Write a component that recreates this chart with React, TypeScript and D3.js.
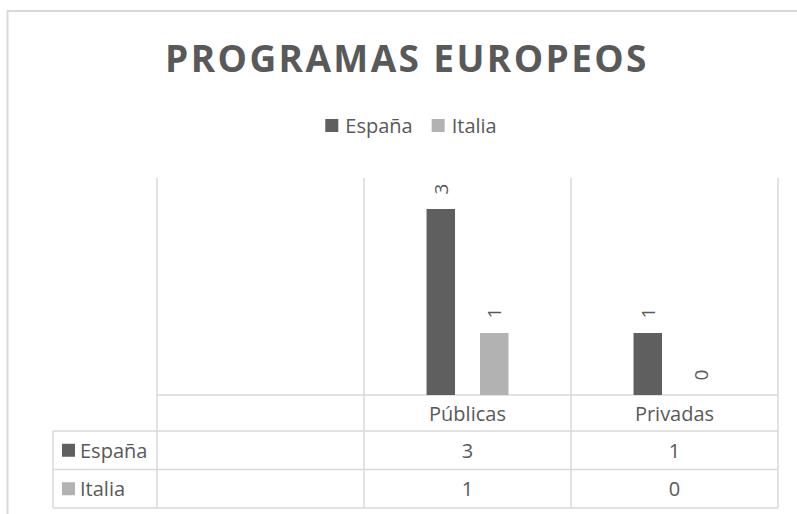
import { useEffect, useRef } from "react";
import * as d3 from "d3";

const categories = ["", "Públicas", "Privadas"];
const seriesNames = ["España", "Italia"];
const espana = [null, 3, 1];
const italia = [null, 1, 0];
const chartTitle = "PROGRAMAS EUROPEOS";

const colors = ["#5f5f5f", "#b2b2b2"];
const textColor = "#595959";
const lineColor = "#d9d9d9";
const font = "'Open Sans', sans-serif";

export default function App() {
  const svgRef = useRef<SVGSVGElement | null>(null);

  useEffect(() => {
    if (!svgRef.current) return;
    const svg = d3.select(svgRef.current);
    svg.selectAll("*").remove();

    const width = 797;
    const height = 514;
    const plot = { left: 157, right: 778, top: 178, bottom: 395 };
    const tableLeft = 53;
    const catRowBottom = 431;
    const rowH = 38.5;

    const values = [espana, italia];

    // outer chart border
    svg
      .append("rect")
      .attr("x", 7.5)
      .attr("y", 11)
      .attr("width", width)
      .attr("height", height)
      .attr("fill", "#fff")
      .attr("stroke", lineColor)
      .attr("stroke-width", 2);

    svg
      .append("text")
      .attr("x", 407)
      .attr("y", 72)
      .attr("text-anchor", "middle")
      .attr("font-family", font)
      .attr("font-weight", 700)
      .attr("font-size", 37)
      .attr("letter-spacing", 2.4)
      .attr("fill", textColor)
      .text(chartTitle);

    // legend, centred
    const legend = svg.append("g");
    let lx = 0;
    seriesNames.forEach((name, i) => {
      const g = legend.append("g").attr("transform", `translate(${lx},0)`);
      g.append("rect")
        .attr("x", 0)
        .attr("y", -7)
        .attr("width", 13)
        .attr("height", 13)
        .attr("fill", colors[i]);
      const t = g
        .append("text")
        .attr("x", 20)
        .attr("y", 7)
        .attr("font-family", font)
        .attr("font-size", 20)
        .attr("fill", textColor)
        .text(name);
      const w = (t.node() as SVGTextElement).getComputedTextLength();
      lx += 20 + w + 19;
    });
    const legendW = lx - 19;
    legend.attr("transform", `translate(${411 - legendW / 2},126)`);

    const x0 = d3
      .scaleBand<string>()
      .domain(categories.map((_, i) => String(i)))
      .range([plot.left, plot.right]);
    const x1 = d3
      .scaleBand<string>()
      .domain(seriesNames)
      .range([0, x0.bandwidth()])
      .paddingInner(0.467)
      .paddingOuter(1.17);
    const y = d3.scaleLinear().domain([0, 3.5]).range([plot.bottom, plot.top]);

    // grid: vertical category separators through the table
    const bounds = [plot.left, ...categories.map((_, i) => (x0(String(i)) as number) + x0.bandwidth())];
    svg
      .append("g")
      .selectAll("line")
      .data(bounds)
      .join("line")
      .attr("x1", (d) => d)
      .attr("x2", (d) => d)
      .attr("y1", plot.top)
      .attr("y2", catRowBottom + rowH * 2)
      .attr("stroke", lineColor)
      .attr("stroke-width", 1.5);

    // horizontal lines: baseline, category row bottom, table rows
    const hLines = [
      { y: plot.bottom, x1: plot.left },
      { y: catRowBottom, x1: tableLeft },
      { y: catRowBottom + rowH, x1: tableLeft },
      { y: catRowBottom + rowH * 2, x1: tableLeft },
    ];
    svg
      .append("g")
      .selectAll("line")
      .data(hLines)
      .join("line")
      .attr("x1", (d) => d.x1)
      .attr("x2", plot.right)
      .attr("y1", (d) => d.y)
      .attr("y2", (d) => d.y)
      .attr("stroke", lineColor)
      .attr("stroke-width", 1.5);
    svg
      .append("line")
      .attr("x1", tableLeft)
      .attr("x2", tableLeft)
      .attr("y1", catRowBottom)
      .attr("y2", catRowBottom + rowH * 2)
      .attr("stroke", lineColor)
      .attr("stroke-width", 1.5);

    // bars + labels
    const bars = seriesNames.flatMap((name, si) =>
      categories.map((_, ci) => ({ name, si, ci, v: values[si][ci] }))
    ).filter((d) => d.v !== null) as { name: string; si: number; ci: number; v: number }[];

    svg
      .append("g")
      .selectAll("rect")
      .data(bars)
      .join("rect")
      .attr("x", (d) => (x0(String(d.ci)) as number) + (x1(d.name) as number))
      .attr("y", (d) => y(d.v))
      .attr("width", x1.bandwidth())
      .attr("height", (d) => y(0) - y(d.v))
      .attr("fill", (d) => colors[d.si]);

    svg
      .append("g")
      .selectAll("text")
      .data(bars)
      .join("text")
      .attr("transform", (d) => {
        const cx = (x0(String(d.ci)) as number) + (x1(d.name) as number) + x1.bandwidth() / 2;
        return `translate(${cx},${y(d.v) - 20}) rotate(-90)`;
      })
      .attr("text-anchor", "middle")
      .attr("dominant-baseline", "central")
      .attr("font-family", font)
      .attr("font-size", 19)
      .attr("fill", textColor)
      .text((d) => d.v);

    // category labels
    svg
      .append("g")
      .selectAll("text")
      .data(categories)
      .join("text")
      .attr("x", (_, i) => (x0(String(i)) as number) + x0.bandwidth() / 2)
      .attr("y", (plot.bottom + catRowBottom) / 2)
      .attr("text-anchor", "middle")
      .attr("dominant-baseline", "central")
      .attr("font-family", font)
      .attr("font-size", 20)
      .attr("fill", textColor)
      .text((d) => d);

    // data table rows
    seriesNames.forEach((name, si) => {
      const cy = catRowBottom + rowH * si + rowH / 2;
      const row = svg.append("g");
      row
        .append("rect")
        .attr("x", 62)
        .attr("y", cy - 6.5)
        .attr("width", 13)
        .attr("height", 13)
        .attr("fill", colors[si]);
      row
        .append("text")
        .attr("x", 80)
        .attr("y", cy)
        .attr("dominant-baseline", "central")
        .attr("font-family", font)
        .attr("font-size", 20)
        .attr("fill", textColor)
        .text(name);
      row
        .selectAll("text.val")
        .data(values[si])
        .join("text")
        .attr("class", "val")
        .attr("x", (_, i) => (x0(String(i)) as number) + x0.bandwidth() / 2)
        .attr("y", cy)
        .attr("text-anchor", "middle")
        .attr("dominant-baseline", "central")
        .attr("font-family", font)
        .attr("font-size", 20)
        .attr("fill", textColor)
        .text((d) => (d === null ? "" : d));
    });
  }, []);

  return (
    <svg
      ref={svgRef}
      width={797}
      height={514}
      style={{ position: "absolute", left: 0, top: 0, background: "#fff" }}
    />
  );
}
